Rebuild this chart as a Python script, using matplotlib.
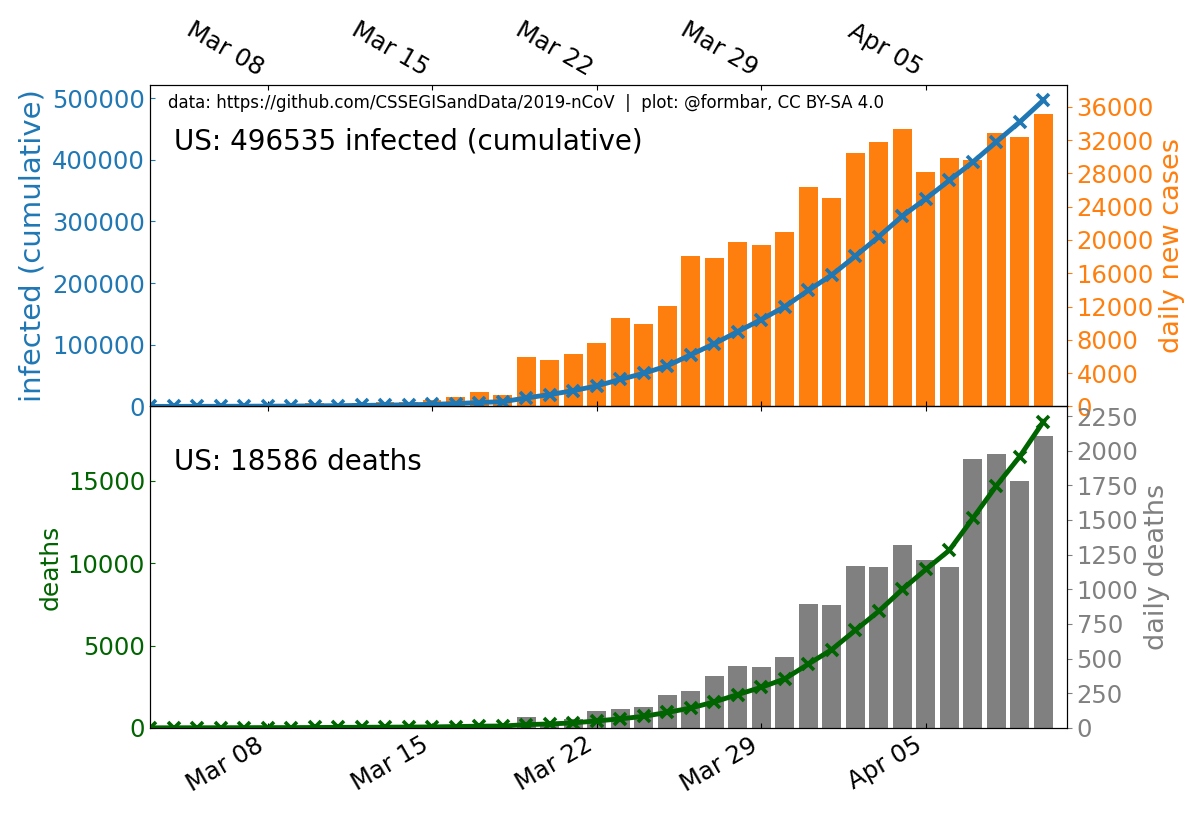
import numpy as np
import pandas as pd
import matplotlib
matplotlib.use("Agg")
import matplotlib.pyplot as plt
import matplotlib.dates as mdates
from matplotlib.ticker import MultipleLocator

# US data, Mar 03 - Apr 10 2020
dates = pd.date_range("2020-03-03", "2020-04-10", freq="D")

infected = [118, 149, 217, 262, 402, 518, 583, 959, 1281, 1663,
            2179, 2727, 3499, 4632, 6421, 7783, 13747, 19273, 25600, 33276,
            43843, 53736, 65778, 83836, 101657, 121465, 140909, 161831, 188172, 213242,
            243622, 275367, 308650, 336802, 366614, 396223, 429052, 461437, 496535]

new_cases = [20, 31, 68, 45, 140, 116, 65, 376, 322, 382,
             516, 548, 772, 1133, 1789, 1362, 5964, 5526, 6327, 7676,
             10567, 9893, 12042, 18058, 17821, 19808, 19444, 20922, 26341, 25070,
             30380, 31745, 33283, 28152, 29812, 29609, 32829, 32385, 35098]

deaths = [7, 11, 12, 14, 17, 21, 22, 28, 36, 40,
          47, 54, 63, 85, 108, 118, 200, 244, 307, 427,
          552, 706, 942, 1209, 1581, 2026, 2467, 2978, 3873, 4757,
          5926, 7087, 8407, 9619, 10783, 12722, 14695, 16478, 18586]

new_deaths = [1, 4, 1, 2, 3, 4, 1, 6, 8, 4,
              7, 7, 9, 22, 23, 10, 82, 44, 63, 120,
              137, 148, 236, 267, 372, 445, 441, 511, 895, 884,
              1169, 1161, 1320, 1212, 1164, 1939, 1973, 1783, 2108]

source = "data: https://github.com/CSSEGISandData/2019-nCoV  |  plot: @formbar, CC BY-SA 4.0"

fs = 17.5

fig, (ax1, ax2) = plt.subplots(2, 1, sharex=True, figsize=(12, 8.14), dpi=100)
fig.subplots_adjust(left=0.125, right=0.889, top=0.8956, bottom=0.1057, hspace=0)

# top panel: cumulative infected + daily new cases
ax1b = ax1.twinx()
ax1b.bar(dates, new_cases, width=0.8, color="tab:orange")
ax1.plot(dates, infected, color="tab:blue", lw=3.5, marker="x", ms=8.5, mew=2.6)
ax1.set_zorder(ax1b.get_zorder() + 1)
ax1.patch.set_visible(False)

ax1.set_ylim(0, 1.05 * max(infected))
ax1b.set_ylim(0, 1.1 * max(new_cases))
ax1.yaxis.set_major_locator(MultipleLocator(100000))
ax1b.yaxis.set_major_locator(MultipleLocator(4000))
ax1.set_ylabel("infected (cumulative)", color="tab:blue", fontsize=21)
ax1b.set_ylabel("daily new cases", color="tab:orange", fontsize=19.5)
ax1.tick_params(axis="y", direction="in", colors="tab:blue", labelsize=fs)
ax1b.tick_params(axis="y", colors="tab:orange", labelsize=fs)

ax1.text(0.02, 0.944, source, transform=ax1.transAxes, fontsize=12, va="center")
ax1.text(0.026, 0.823, "US: %d infected (cumulative)" % infected[-1],
         transform=ax1.transAxes, fontsize=20, va="center")

# bottom panel: deaths + daily deaths
ax2b = ax2.twinx()
ax2b.bar(dates, new_deaths, width=0.8, color="gray")
ax2.plot(dates, deaths, color="darkgreen", lw=3.5, marker="x", ms=8.5, mew=2.6)
ax2.set_zorder(ax2b.get_zorder() + 1)
ax2.patch.set_visible(False)

ax2.set_ylim(0, 1.05 * max(deaths))
ax2b.set_ylim(0, 1.1 * max(new_deaths))
ax2.yaxis.set_major_locator(MultipleLocator(5000))
ax2b.yaxis.set_major_locator(MultipleLocator(250))
ax2.set_ylabel("deaths", color="darkgreen", fontsize=18)
ax2b.set_ylabel("daily deaths", color="gray", fontsize=19.5)
ax2.tick_params(axis="y", direction="in", colors="darkgreen", labelsize=fs)
ax2b.tick_params(axis="y", colors="gray", labelsize=fs)

ax2.text(0.026, 0.826, "US: %d deaths" % deaths[-1],
         transform=ax2.transAxes, fontsize=20, va="center")

# shared date axis
ax2.set_xlim(dates[0], dates[-1] + pd.Timedelta(days=1))
ax2.xaxis.set_major_locator(mdates.WeekdayLocator(byweekday=mdates.SU))
ax2.xaxis.set_major_formatter(mdates.DateFormatter("%b %d"))

for ax in (ax1, ax2):
    ax.tick_params(axis="x", direction="in", top=True, bottom=True, labelsize=fs)
ax1.tick_params(axis="x", labeltop=True, labelbottom=False)

for t in ax1.xaxis.get_major_ticks():
    t.label2.set_rotation(-30)
    t.label2.set_ha("right")
for t in ax2.xaxis.get_major_ticks():
    t.label1.set_rotation(30)
    t.label1.set_ha("right")

fig.savefig("out.png", dpi=100)
